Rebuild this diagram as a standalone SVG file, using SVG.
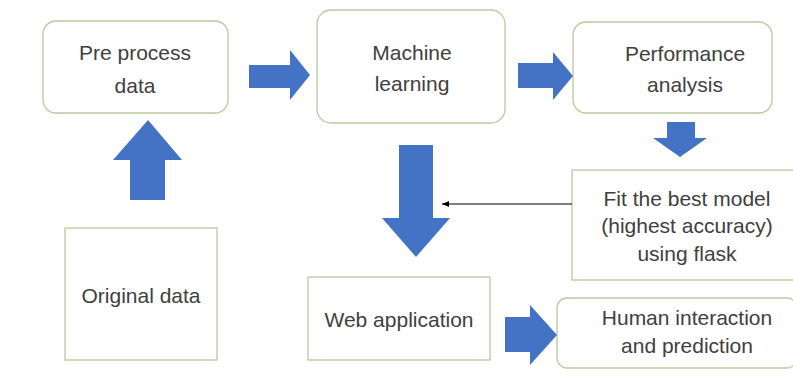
<svg xmlns="http://www.w3.org/2000/svg" width="793" height="390" viewBox="0 0 793 390">
<style>
.box{fill:#fff;stroke:#b9c99c;stroke-width:1.3}
.arr{fill:#4472c4}
.t{font-family:"Liberation Sans",Arial,sans-serif;font-size:21px;fill:#404040;text-anchor:middle}
</style>
<defs>
<marker id="ah" markerWidth="8" markerHeight="8" refX="7" refY="4" orient="auto" markerUnits="userSpaceOnUse">
<path d="M0,1 L7,4 L0,7 Z" fill="#000"/>
</marker>
</defs>
<rect width="793" height="390" fill="#fff"/>
<g id="pre-process">
<rect class="box" x="43" y="21" width="185" height="92" rx="13"/>
<text class="t" x="135" y="60">Pre process</text>
<text class="t" x="135" y="93">data</text>
</g>
<g id="machine-learning">
<rect class="box" x="317" y="10" width="188" height="113" rx="14"/>
<text class="t" x="412" y="60">Machine</text>
<text class="t" x="412" y="91">learning</text>
</g>
<g id="performance">
<rect class="box" x="573" y="22" width="199" height="91" rx="13"/>
<text class="t" x="685" y="61">Performance</text>
<text class="t" x="685" y="92">analysis</text>
</g>
<g id="fit-model">
<rect class="box" x="572" y="170" width="222" height="110"/>
<text class="t" x="687" y="206">Fit the best model</text>
<text class="t" x="687" y="233">(highest accuracy)</text>
<text class="t" x="687" y="261">using flask</text>
</g>
<g id="human-interaction">
<rect class="box" x="557" y="298" width="240" height="70" rx="10"/>
<text class="t" x="687" y="325">Human interaction</text>
<text class="t" x="687" y="353">and prediction</text>
</g>
<g id="web-application">
<rect class="box" x="308" y="277" width="182" height="83"/>
<text class="t" x="399" y="327">Web application</text>
</g>
<g id="original-data">
<rect class="box" x="65" y="228" width="152" height="132"/>
<text class="t" x="141" y="303">Original data</text>
</g>
<g id="connectors">
<path class="arr" d="M249,65 L290,65 L290,50 L310,75 L290,100 L290,88 L249,88 Z"/>
<path class="arr" d="M518,63 L553,63 L553,52 L573,76 L553,100 L553,88 L518,88 Z"/>
<path class="arr" d="M667,122 L695,122 L695,138 L707,138 L680,157 L653,138 L667,138 Z"/>
<path class="arr" d="M399,145 L433,145 L433,218 L450,218 L416,257 L382,218 L399,218 Z"/>
<path class="arr" d="M505,317 L530,317 L530,305 L557,335 L530,365 L530,352 L505,352 Z"/>
<path class="arr" d="M130,200 L165,200 L165,160 L182,160 L148,120 L113,160 L130,160 Z"/>
<line x1="572" y1="204" x2="442" y2="204" stroke="#000" stroke-width="1.2" marker-end="url(#ah)"/>
</g>
</svg>
